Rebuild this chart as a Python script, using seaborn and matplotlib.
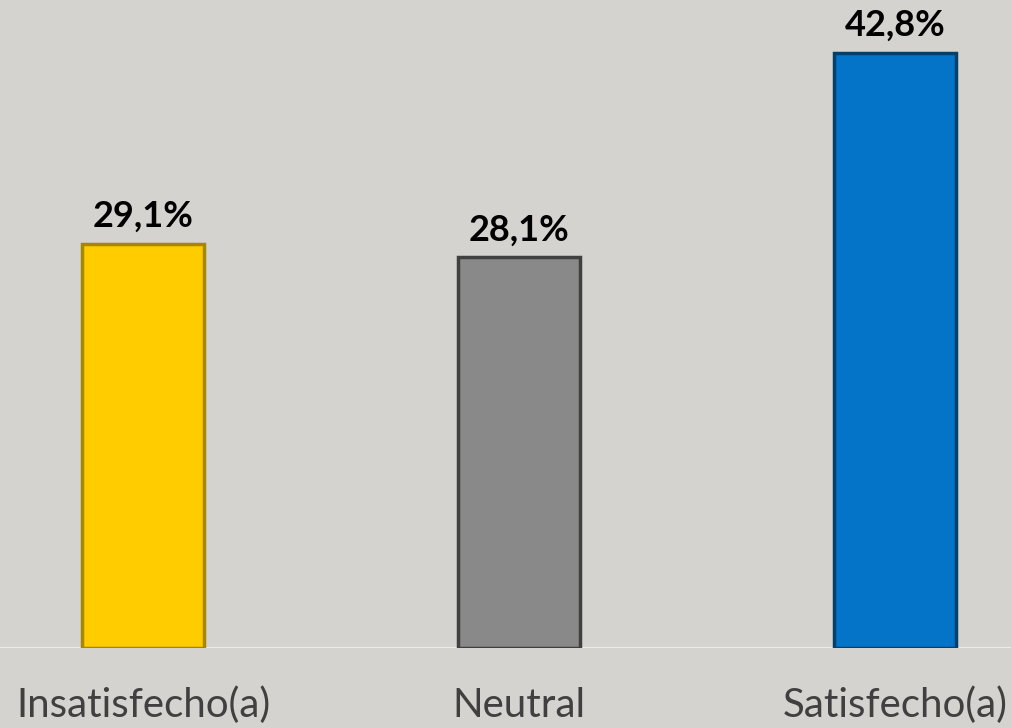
import matplotlib
matplotlib.use("Agg")
import matplotlib.pyplot as plt
import seaborn as sns
import pandas as pd

categories = ["Insatisfecho(a)", "Neutral", "Satisfecho(a)"]
values = [29.1, 28.1, 42.8]
value_labels = ["29,1%", "28,1%", "42,8%"]
colors = ["#FFCC00", "#898989", "#0474C8"]
edge_colors = ["#A88600", "#404040", "#03406C"]

sns.set_theme(style="white")
plt.rcParams["font.family"] = ["Lato", "DejaVu Sans"]

bg = "#D4D3CF"
fig = plt.figure(figsize=(10.12, 7.28), dpi=100, facecolor=bg)
ax = fig.add_axes([0, 80 / 728, 1, 648 / 728])
ax.set_facecolor(bg)

df = pd.DataFrame({"cat": categories, "val": values})
sns.barplot(data=df, x="cat", y="val", hue="cat", palette=colors, legend=False,
            width=0.324, ax=ax, saturation=1)

for patch, ec in zip(ax.patches, edge_colors):
    patch.set_edgecolor(ec)
    patch.set_linewidth(2.5)

xmin = -143 / 376
ax.set_xlim(xmin, xmin + 1012 / 376)
ax.set_ylim(0, 648 / 13.9)

for i, (v, lab) in enumerate(zip(values, value_labels)):
    ax.annotate(lab, (i, v), xytext=(0, 11), textcoords="offset pixels",
                ha="center", va="bottom", fontsize=26, fontweight="bold", color="black")

ax.axhline(0, color="#ECECEA", lw=1.5, zorder=0)

for s in ax.spines.values():
    s.set_visible(False)
ax.set_yticks([])
ax.set_xticks([])
ax.set_xlabel("")
ax.set_ylabel("")

for i, c in enumerate(categories):
    fig.text((i - xmin) * 376 / 1012, 11 / 728, c, ha="center", va="baseline",
             fontsize=29, color="#404040")

fig.savefig("out.png", dpi=100, facecolor=bg)
